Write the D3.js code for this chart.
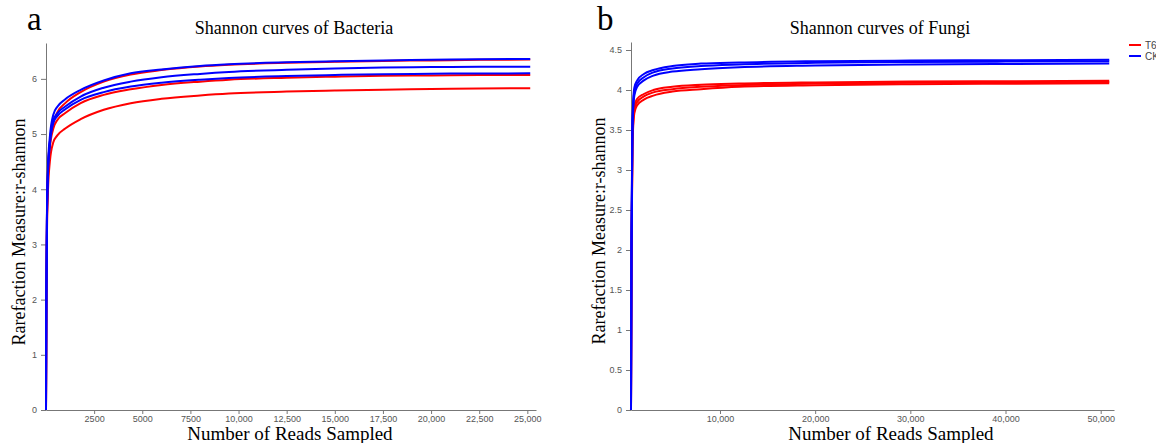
<!DOCTYPE html>
<html><head><meta charset="utf-8">
<script src="https://cdn.jsdelivr.net/npm/d3@7"></script>
<style>
body{margin:0;background:#fff;}
svg{display:block;}
.tick text{font-family:"Liberation Sans",Arial,sans-serif;font-size:9px;fill:#555;}
.domain,.tick line{stroke:#777;}
.serif{font-family:"Liberation Serif","Times New Roman",serif;fill:#000;}
</style></head>
<body>
<svg id="c" width="1156" height="443"></svg>
<script>
// ---------- Bacteria (panel a) ----------
const bactDepths = [0, 20, 50, 100, 200, 380, 600, 1000, 1800, 3000, 4400, 6000, 8000, 9500, 12500, 15000, 17500, 20000, 22500, 25150];
const bactCK1 = [0, 2.2, 3.6, 4.4, 4.95, 5.35, 5.5, 5.63, 5.8, 5.97, 6.1, 6.17, 6.235, 6.265, 6.3, 6.32, 6.335, 6.345, 6.355, 6.36];
const bactCK2 = [0, 2.1, 3.5, 4.3, 4.85, 5.25, 5.38, 5.5, 5.68, 5.84, 5.95, 6.03, 6.09, 6.125, 6.165, 6.19, 6.205, 6.213, 6.218, 6.22];
const bactCK3 = [0, 2.0, 3.45, 4.25, 4.8, 5.2, 5.33, 5.45, 5.62, 5.76, 5.86, 5.93, 5.985, 6.015, 6.05, 6.07, 6.085, 6.093, 6.098, 6.1];
const bactT61 = [0, 2.1, 3.5, 4.3, 4.85, 5.2, 5.4, 5.56, 5.76, 5.95, 6.08, 6.16, 6.225, 6.255, 6.29, 6.31, 6.325, 6.335, 6.345, 6.35];
const bactT62 = [0, 2.0, 3.4, 4.2, 4.75, 5.1, 5.26, 5.38, 5.56, 5.71, 5.81, 5.89, 5.95, 5.985, 6.02, 6.04, 6.055, 6.063, 6.068, 6.07];
const bactT63 = [0, 1.9, 3.2, 3.95, 4.5, 4.85, 4.98, 5.1, 5.27, 5.44, 5.56, 5.64, 5.7, 5.735, 5.77, 5.79, 5.805, 5.815, 5.825, 5.83];
const bactXTicks = [2500, 5000, 7500, 10000, 12500, 15000, 17500, 20000, 22500, 25000];
const bactYTicks = [0, 1, 2, 3, 4, 5, 6];

// ---------- Fungi (panel b) ----------
const fungDepths = [650, 700, 800, 1000, 1300, 2000, 3000, 5000, 8000, 12000, 20000, 30000, 40000, 50900];
const fungCK1 = [0, 2.2, 3.62, 4.03, 4.12, 4.2, 4.25, 4.3, 4.33, 4.345, 4.36, 4.368, 4.372, 4.378];
const fungCK2 = [0, 2.1, 3.55, 3.98, 4.08, 4.16, 4.22, 4.27, 4.3, 4.32, 4.34, 4.35, 4.355, 4.358];
const fungCK3 = [0, 2.0, 3.5, 3.93, 4.04, 4.12, 4.18, 4.23, 4.26, 4.285, 4.305, 4.318, 4.325, 4.33];
const fungT61 = [0, 1.9, 3.42, 3.8, 3.89, 3.95, 4.0, 4.04, 4.065, 4.08, 4.095, 4.105, 4.11, 4.115];
const fungT62 = [0, 1.85, 3.36, 3.76, 3.85, 3.92, 3.97, 4.01, 4.04, 4.06, 4.08, 4.09, 4.095, 4.1];
const fungT63 = [0, 1.8, 3.3, 3.71, 3.81, 3.88, 3.93, 3.98, 4.01, 4.04, 4.06, 4.072, 4.078, 4.083];
const fungXTicks = [10000, 20000, 30000, 40000, 50000];
const fungYTicks = [0, 0.5, 1, 1.5, 2, 2.5, 3, 3.5, 4, 4.5];

const groups = ["T6", "CK"];
const groupColors = ["#ff0000", "#0000ff"];

const svg = d3.select("#c");
const color = d3.scaleOrdinal().domain(groups).range(groupColors);

function panel(cfg) {
  const x = d3.scaleLinear().domain(cfg.xDomain).range(cfg.xRange);
  const y = d3.scaleLinear().domain(cfg.yDomain).range(cfg.yRange);
  const g = svg.append("g");
  const fmt = d => d < 10000 ? String(d) : d3.format(",")(d);
  g.append("g").attr("transform", `translate(0,${cfg.yRange[0]})`)
    .call(d3.axisBottom(x).tickValues(cfg.xTicks).tickFormat(fmt).tickSize(4).tickSizeOuter(0).tickPadding(2));
  g.append("g").attr("transform", `translate(${cfg.xRange[0]},0)`)
    .call(d3.axisLeft(y).tickValues(cfg.yTicks).tickFormat(d => String(d)).tickSize(5).tickSizeOuter(0).tickPadding(4));
  const line = d3.line().x((d, i) => x(cfg.depths[i])).y(d => y(d)).curve(d3.curveMonotoneX);
  cfg.series.forEach(s => {
    g.append("path").attr("d", line(s.values)).attr("fill", "none")
      .attr("stroke", color(s.group)).attr("stroke-width", 2).attr("stroke-linejoin", "round");
  });
  g.append("text").attr("class", "serif").attr("x", cfg.titleX).attr("y", 34)
    .attr("text-anchor", "middle").attr("font-size", 18).text(cfg.title);
  g.append("text").attr("class", "serif").attr("x", cfg.letterX).attr("y", 30)
    .attr("font-size", 33).text(cfg.letter);
  g.append("text").attr("class", "serif").attr("font-size", 18)
    .attr("transform", `translate(${cfg.yLabelX},${cfg.yLabelY}) rotate(-90)`)
    .attr("text-anchor", "middle").text("Rarefaction Measure:r-shannon");
  g.append("text").attr("class", "serif").attr("x", cfg.xLabelX).attr("y", 440)
    .attr("text-anchor", "middle").attr("font-size", 19).text("Number of Reads Sampled");
  return g;
}

panel({
  depths: bactDepths, xDomain: [0, 25450], xRange: [46, 536], yDomain: [0, 6.65], yRange: [410, 43],
  xTicks: bactXTicks, yTicks: bactYTicks, title: "Shannon curves of Bacteria", titleX: 294,
  letter: "a", letterX: 27, yLabelX: 25, yLabelY: 232, xLabelX: 290,
  series: [
    {group: "T6", values: bactT61}, {group: "T6", values: bactT62}, {group: "T6", values: bactT63},
    {group: "CK", values: bactCK1}, {group: "CK", values: bactCK2}, {group: "CK", values: bactCK3}
  ]
});

panel({
  depths: fungDepths, xDomain: [650, 51400], xRange: [631, 1114], yDomain: [0, 4.6], yRange: [410, 42],
  xTicks: fungXTicks, yTicks: fungYTicks, title: "Shannon curves of Fungi", titleX: 880,
  letter: "b", letterX: 597, yLabelX: 605, yLabelY: 231, xLabelX: 891,
  series: [
    {group: "T6", values: fungT61}, {group: "T6", values: fungT62}, {group: "T6", values: fungT63},
    {group: "CK", values: fungCK1}, {group: "CK", values: fungCK2}, {group: "CK", values: fungCK3}
  ]
});

// legend
const lg = svg.append("g");
groups.forEach((gname, i) => {
  lg.append("line").attr("x1", 1129).attr("x2", 1141).attr("y1", 45 + i * 11).attr("y2", 45 + i * 11)
    .attr("stroke", color(gname)).attr("stroke-width", 2);
  lg.append("text").attr("x", 1145).attr("y", 48.5 + i * 11)
    .attr("font-family", "Liberation Sans, Arial, sans-serif").attr("font-size", 10).attr("fill", "#444").text(gname);
});
</script>
</body></html>
